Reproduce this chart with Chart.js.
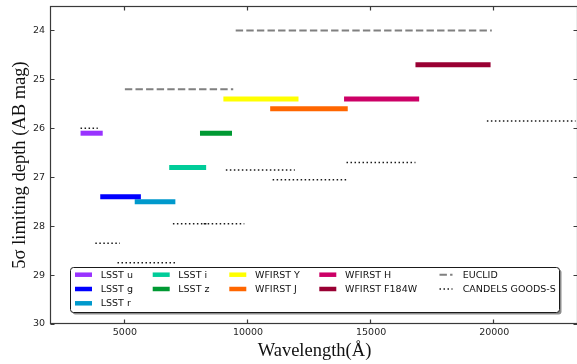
<html>

<head>
    <title>5 sigma limiting depth by band</title>
    <script src="https://cdn.jsdelivr.net/npm/chart.js"></script>
    <style>
        body { margin: 0; overflow: hidden; background: #fff; }
        #depthChart { display: block; }
    </style>
</head>

<body>
    <!-- canvas is a bit wider than the window so the right frame edge falls just off screen -->
    <canvas id="depthChart" width="580" height="364"></canvas>

    <script type="text/javascript" charset="utf-8">

        // wavelength ranges in Angstrom, depth in AB mag
        var lsstNames = ['LSST u', 'LSST g', 'LSST r', 'LSST i', 'LSST z'];
        var lsstStart = [3200, 4000, 5400, 6800, 8050];
        var lsstEnd = [4100, 5650, 7050, 8300, 9350];
        var lsstDepth = [26.1, 27.4, 27.5, 26.8, 26.1];

        var wfirstNames = ['WFIRST Y', 'WFIRST J', 'WFIRST H', 'WFIRST F184W'];
        var wfirstStart = [9000, 10900, 13900, 16800];
        var wfirstEnd = [12050, 14050, 16950, 19850];
        var wfirstDepth = [25.4, 25.6, 25.4, 24.7];

        var euclidStart = [5000, 9500];
        var euclidEnd = [9400, 19900];
        var euclidDepth = [25.2, 24.0];

        var candelsStart = [3200, 3800, 4700, 6950, 8200, 9100, 11000, 14000, 19700];
        var candelsEnd = [3900, 4800, 7100, 8400, 9850, 11900, 14000, 16800, 23300];
        var candelsDepth = [26.0, 28.35, 28.75, 27.95, 27.95, 26.85, 27.05, 26.7, 25.85];

        var xTicks = [5000, 10000, 15000, 20000];
        var yTicks = [24, 25, 26, 27, 28, 29, 30];

        var lsstColors = ['#9933ff', '#0000ff', '#0099cc', '#00cc99', '#009933'];
        var wfirstColors = ['#ffff00', '#ff6600', '#cc0066', '#990033'];
        var euclidColor = '#808080';
        var candelsColor = '#1a1a1a';

        var euclidDash = [7.4, 3.2];
        var candelsDash = [1.5, 2.5];

        function segment(label, x0, x1, y, color, width, dash) {
            return {
                label: label,
                data: [{ x: x0, y: y }, { x: x1, y: y }],
                showLine: true,
                borderColor: color,
                backgroundColor: color,
                borderWidth: width,
                borderDash: dash,
                borderCapStyle: 'butt',
                pointRadius: 0,
                pointHoverRadius: 0
            };
        }

        var datasets = [];
        for (var i = 0; i < lsstNames.length; i++) {
            datasets.push(segment(lsstNames[i], lsstStart[i], lsstEnd[i], lsstDepth[i], lsstColors[i], 5, []));
        }
        for (var i = 0; i < wfirstNames.length; i++) {
            datasets.push(segment(wfirstNames[i], wfirstStart[i], wfirstEnd[i], wfirstDepth[i], wfirstColors[i], 5, []));
        }
        for (var i = 0; i < euclidStart.length; i++) {
            datasets.push(segment('EUCLID', euclidStart[i], euclidEnd[i], euclidDepth[i], euclidColor, 2, euclidDash));
        }
        for (var i = 0; i < candelsStart.length; i++) {
            datasets.push(segment('CANDELS GOODS-S', candelsStart[i], candelsEnd[i], candelsDepth[i], candelsColor, 1.5, candelsDash));
        }

        // box round the plot with short inward ticks on all four sides
        var framePlugin = {
            id: 'frame',
            afterDraw: function (chart) {
                var ctx = chart.ctx;
                var a = chart.chartArea;
                var xs = chart.scales.x, ys = chart.scales.y;
                var L = a.left - 0.5, T = a.top + 0.5, R = a.right - 0.5, B = a.bottom - 0.5;
                ctx.save();
                ctx.strokeStyle = '#3a3a3a';
                ctx.lineWidth = 1.2;
                ctx.strokeRect(L, T, R - L, B - T);
                ctx.beginPath();
                xTicks.forEach(function (v) {
                    var px = Math.round(xs.getPixelForValue(v)) - 0.5;
                    ctx.moveTo(px, T); ctx.lineTo(px, T + 4);
                    ctx.moveTo(px, B); ctx.lineTo(px, B - 4);
                });
                yTicks.forEach(function (v) {
                    var py = Math.round(ys.getPixelForValue(v)) + 0.5;
                    ctx.moveTo(L, py); ctx.lineTo(L + 4, py);
                    ctx.moveTo(R, py); ctx.lineTo(R - 4, py);
                });
                ctx.stroke();
                ctx.restore();
            }
        };

        // legend filled column by column, five columns
        var legendColumns = [[0, 1, 2], [3, 4], [5, 6], [7, 8], [9, 10]];
        var legendHandleX = [75, 152.7, 229.3, 319.3, 439.5];
        var legendTextX = [100.7, 178.3, 255, 345, 462.7];
        var legendRowY = [274.7, 289, 303.3];

        var legendPlugin = {
            id: 'boxLegend',
            afterDraw: function (chart) {
                var ctx = chart.ctx;
                var seen = {};
                var entries = [];
                chart.data.datasets.forEach(function (ds) {
                    if (!seen[ds.label]) {
                        seen[ds.label] = true;
                        entries.push(ds);
                    }
                });

                var bx = 70.5, by = 267.5, bw = 489, bh = 45;
                ctx.save();
                ctx.fillStyle = 'rgba(0,0,0,0.45)';
                ctx.beginPath();
                ctx.roundRect(bx + 2, by + 2, bw, bh, 3);
                ctx.fill();
                ctx.fillStyle = '#ffffff';
                ctx.strokeStyle = '#1a1a1a';
                ctx.lineWidth = 1;
                ctx.beginPath();
                ctx.roundRect(bx, by, bw, bh, 3);
                ctx.fill();
                ctx.stroke();

                ctx.font = '9.5px "DejaVu Sans"';
                ctx.textBaseline = 'middle';
                ctx.textAlign = 'left';
                legendColumns.forEach(function (col, c) {
                    col.forEach(function (idx, r) {
                        var ds = entries[idx];
                        var y = legendRowY[r];
                        var hx = legendHandleX[c];
                        var len = ds.borderDash.length ? 13 : 17;
                        ctx.save();
                        ctx.strokeStyle = ds.borderColor;
                        ctx.lineWidth = ds.borderWidth === 5 ? 4.5 : ds.borderWidth;
                        ctx.lineCap = 'butt';
                        ctx.setLineDash(ds.borderDash);
                        ctx.beginPath();
                        ctx.moveTo(hx, y);
                        ctx.lineTo(hx + len, y);
                        ctx.stroke();
                        ctx.restore();
                        ctx.fillStyle = '#111';
                        ctx.fillText(ds.label, legendTextX[c], y + 0.5);
                    });
                });
                ctx.restore();
            }
        };

        var chart = new Chart(document.getElementById('depthChart'), {
            type: 'scatter',
            data: { datasets: datasets },
            options: {
                responsive: false,
                animation: false,
                events: [],
                layout: { padding: { top: 6, right: 2, left: 0, bottom: 0 } },
                plugins: {
                    legend: { display: false },
                    tooltip: { enabled: false }
                },
                scales: {
                    x: {
                        type: 'linear',
                        min: 2000,
                        max: 23400,
                        grid: { display: false, drawTicks: false },
                        border: { display: false },
                        afterBuildTicks: function (axis) {
                            axis.ticks = xTicks.map(function (v) { return { value: v }; });
                        },
                        afterFit: function (axis) {
                            axis.height = 40;
                            axis.paddingLeft = 0;
                            axis.paddingRight = 0;
                        },
                        ticks: {
                            padding: 3,
                            maxRotation: 0,
                            autoSkip: false,
                            color: '#262626',
                            font: { family: 'DejaVu Sans', size: 9.5 },
                            callback: function (v) { return String(v); }
                        },
                        title: {
                            display: true,
                            text: 'Wavelength(Å)',
                            color: '#111',
                            font: { family: 'Liberation Serif', size: 18.5 },
                            padding: { top: 0, bottom: 2 }
                        }
                    },
                    y: {
                        type: 'linear',
                        reverse: true,
                        min: 23.5,
                        max: 30,
                        grid: { display: false, drawTicks: false },
                        border: { display: false },
                        afterBuildTicks: function (axis) {
                            axis.ticks = yTicks.map(function (v) { return { value: v }; });
                        },
                        afterFit: function (axis) {
                            axis.width = 51;
                            axis.paddingTop = 0;
                            axis.paddingBottom = 0;
                        },
                        ticks: {
                            padding: 6,
                            autoSkip: false,
                            color: '#262626',
                            font: { family: 'DejaVu Sans', size: 9.5 },
                            callback: function (v) { return String(v); }
                        },
                        title: {
                            display: true,
                            text: '5σ limiting depth (AB mag)',
                            color: '#111',
                            font: { family: 'Liberation Serif', size: 18.5 },
                            padding: { top: 9, bottom: 0 }
                        }
                    }
                }
            },
            plugins: [framePlugin, legendPlugin]
        });

    </script>
</body>

</html>
